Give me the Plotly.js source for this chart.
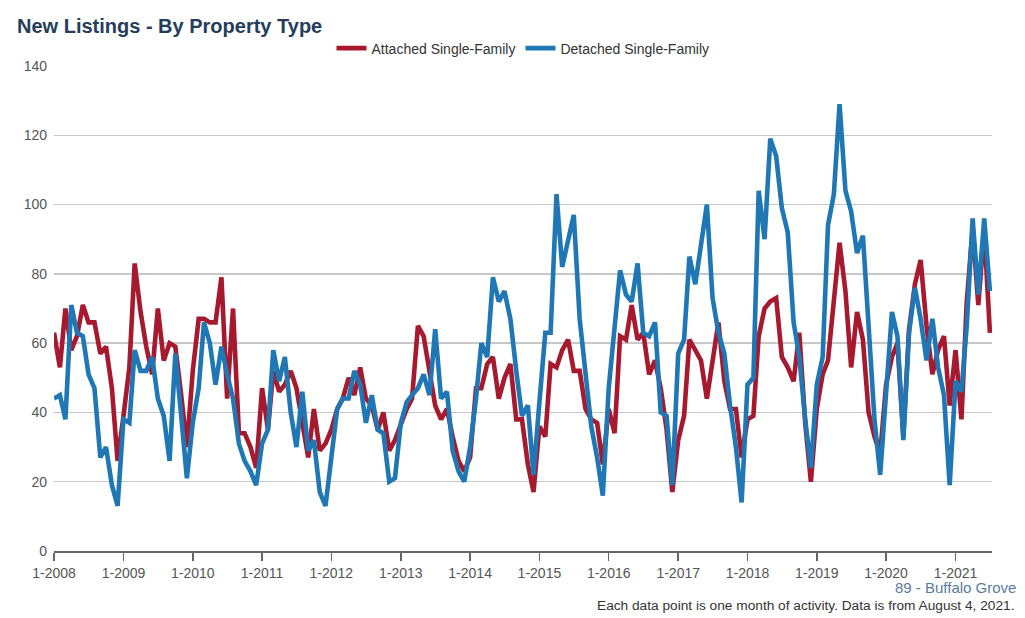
<!DOCTYPE html>
<html>
<head>
<meta charset="utf-8">
<script src="https://cdn.plot.ly/plotly-3.0.1.min.js"></script>
<style>
  html, body { margin: 0; padding: 0; background: #ffffff; }
  #chart { width: 1025px; height: 618px; }
</style>
</head>
<body>
<div id="chart"></div>
<script>
// Monthly series, Jan 2008 - Jul 2021
const startYear = 2008;
const startMonth = 1;

const attached = [
  63, 53, 70, 58, 62, 71, 66, 66, 57, 59, 47, 26,
  39, 53, 83, 69, 59, 51, 70, 55, 60, 59, 45, 30,
  52, 67, 67, 66, 66, 79, 44, 70, 34, 34, 30, 24,
  47, 35, 52, 46, 48, 52, 47, 36, 27, 41, 29, 31,
  35, 41, 44, 50, 45, 53, 44, 42, 35, 40, 29, 32,
  37, 41, 44, 65, 62, 51, 42, 38, 41, 33, 26, 23,
  27, 47, 47, 54, 56, 44, 50, 54, 38, 38, 25, 17,
  36, 33, 54, 53, 58, 61, 52, 52, 41, 38, 37, 25,
  41, 34, 62, 61, 71, 61, 63, 51, 55, 47, 35, 17,
  32, 39, 61, 58, 55, 44, 56, 66, 49, 41, 41, 27,
  38, 39, 62, 70, 72, 73, 56, 53, 49, 63, 37, 20,
  41, 51, 55, 73, 89, 75, 53, 69, 61, 40, 33, 28,
  48, 56, 60, 33, 64, 77, 84, 65, 51, 58, 62, 42,
  58, 38, 72, 93, 71, 93, 63
];

const detached = [
  44, 45, 38, 71, 63, 62, 51, 47, 27, 30, 19, 13,
  38, 37, 58, 52, 52, 56, 44, 39, 26, 57, 39, 21,
  37, 47, 66, 60, 48, 59, 51, 44, 31, 26, 23, 19,
  31, 35, 58, 49, 56, 40, 30, 46, 29, 32, 17, 13,
  27, 41, 44, 44, 52, 48, 37, 45, 35, 34, 20, 21,
  37, 43, 45, 47, 51, 45, 64, 44, 46, 29, 23, 20,
  30, 44, 60, 56, 79, 72, 75, 67, 52, 39, 42, 22,
  43, 63, 63, 103, 82, 90, 97, 67, 51, 36, 27, 16,
  47, 65, 81, 74, 72, 83, 63, 62, 66, 40, 39, 19,
  57, 61, 85, 77, 88, 100, 73, 63, 57, 42, 30, 14,
  48, 50, 104, 90, 119, 114, 99, 92, 66, 56, 38, 24,
  48, 56, 94, 103, 129, 104, 98, 86, 91, 63, 38, 22,
  48, 69, 62, 32, 63, 76, 67, 55, 67, 53, 45, 19,
  49, 46, 65, 96, 74, 96, 75
];

const seriesNames = ['Attached Single-Family', 'Detached Single-Family'];
const seriesColors = ['#a6192e', '#1f78b5'];

const tickYears = [2008, 2009, 2010, 2011, 2012, 2013, 2014, 2015, 2016, 2017, 2018, 2019, 2020, 2021];
const tickLabels = tickYears.map(y => '1-' + y);
const tickValues = tickYears.map(y => y + '-01-01');

function monthDate(i) {
  const m = startMonth - 1 + i;
  const y = startYear + Math.floor(m / 12);
  const mm = (m % 12) + 1;
  return y + '-' + String(mm).padStart(2, '0') + '-01';
}
const dates = attached.map((_, i) => monthDate(i));

const traces = [attached, detached].map((vals, k) => ({
  type: 'scatter',
  mode: 'lines',
  x: dates,
  y: vals,
  name: seriesNames[k],
  line: { color: seriesColors[k], width: 4.6, shape: 'linear' },
  hoverinfo: 'x+y+name'
}));

const layout = {
  width: 1025,
  height: 618,
  paper_bgcolor: '#ffffff',
  plot_bgcolor: '#ffffff',
  font: { family: 'Liberation Sans, Arial, sans-serif', color: '#555555', size: 14 },
  margin: { l: 54, r: 33, t: 66, b: 67 },
  title: {
    text: '<b>New Listings - By Property Type</b>',
    font: { family: 'Liberation Sans, Arial, sans-serif', size: 20, color: '#253d5b' },
    x: 17 / 1025, xanchor: 'left', xref: 'container',
    y: 0.958, yanchor: 'middle', yref: 'container'
  },
  showlegend: true,
  legend: {
    orientation: 'h',
    x: 0.5, xanchor: 'center',
    y: 1.036, yanchor: 'middle',
    font: { size: 14, color: '#333333' },
    itemwidth: 30,
    traceorder: 'normal'
  },
  xaxis: {
    type: 'date',
    range: ['2008-01-01', '2021-07-12'],
    tickvals: tickValues,
    ticktext: tickLabels,
    ticks: 'outside',
    ticklen: 8,
    tickwidth: 1.5,
    tickcolor: '#666666',
    showline: true,
    linecolor: '#666666',
    linewidth: 2,
    showgrid: false,
    zeroline: false,
    tickfont: { size: 14, color: '#555555' },
    fixedrange: true
  },
  yaxis: {
    range: [0, 140],
    tickvals: [0, 20, 40, 60, 80, 100, 120, 140],
    showgrid: true,
    gridcolor: '#c8c8c8',
    gridwidth: 1.3,
    zeroline: false,
    showline: false,
    ticks: '',
    tickfont: { size: 14, color: '#555555' },
    ticklabelstandoff: 6,
    fixedrange: true
  },
  annotations: [
    {
      text: '89 - Buffalo Grove',
      xref: 'paper', yref: 'paper',
      x: 1.028, xanchor: 'right',
      y: -0.076, yanchor: 'middle',
      showarrow: false,
      font: { size: 15, color: '#5b7ba1' }
    },
    {
      text: 'Each data point is one month of activity. Data is from August 4, 2021.',
      xref: 'paper', yref: 'paper',
      x: 1.026, xanchor: 'right',
      y: -0.113, yanchor: 'middle',
      showarrow: false,
      font: { size: 13.7, color: '#333333' }
    }
  ]
};

Plotly.newPlot('chart', traces, layout, { displayModeBar: false, staticPlot: true });
</script>
</body>
</html>
